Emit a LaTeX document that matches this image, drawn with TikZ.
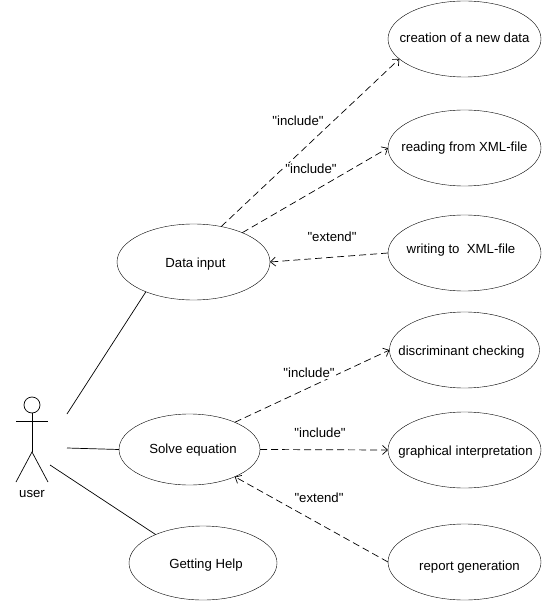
\documentclass[tikz,border=0pt]{standalone}
\usepackage{fontspec}
\newfontfamily\ucfont{Liberation Sans}
\usetikzlibrary{shapes,arrows.meta,positioning}

% text inside a use case: x offset (twice the shift), baseline below centre
\newcommand{\uctext}[3]{\makebox[0pt]{\raisebox{-#2pt}{\hspace*{#1pt}#3}}}

\begin{document}
\begin{tikzpicture}[
  x=1pt, y=-1pt,
  usecase/.style={draw, ellipse, minimum width=153pt, minimum height=76pt, inner sep=0pt, outer sep=0pt, text height=8pt, text depth=8pt, font=\ucfont\fontsize{13.2}{15}\selectfont},
  assoc/.style={line width=0.7pt},
  dep/.style={->, line width=0.7pt, dash pattern=on 7pt off 4pt, >={Straight Barb[length=5pt,width=9pt]}},
  lbl/.style={fill=white, inner sep=1pt, font=\ucfont\fontsize{13.2}{15}\selectfont}
]
\useasboundingbox (0,0) rectangle (542,601);

\node[usecase] (creation) at (464.5,39) {\uctext{0}{4}{creation of a new data}};
\node[usecase, below=33pt of creation] (reading) {\uctext{0}{3.5}{reading from XML-file}};
\node[usecase, below=29pt of reading] (writing) {\uctext{-7}{0.5}{writing to~~XML-file}};
\node[usecase, minimum width=150pt, below=21pt of writing] (discr) {\uctext{-6}{5}{discriminant checking}};
\node[usecase, below=24pt of discr] (graphical) {\uctext{2}{5.5}{graphical interpretation}};
\node[usecase, below=36pt of graphical] (report) {\uctext{10}{8.5}{report generation}};

\node[usecase] (datainput) at (193.5,262) {\uctext{4}{5.5}{Data input}};
\node[usecase, minimum width=141pt, minimum height=71pt] (solve) at (189.5,449.5) {\uctext{7}{4}{Solve equation}};
\node[usecase, minimum width=148pt, minimum height=74pt] (help) at (203,563) {\uctext{6}{5.5}{Getting Help}};

% actor
\node[draw, line width=0.7pt, circle, minimum size=16pt, inner sep=0pt, outer sep=0pt] (head) at (32,405) {};
\coordinate (armL) at (16,421);
\coordinate (armR) at (48,421);
\coordinate (hip) at (32,452);
\coordinate (footL) at (16,482);
\coordinate (footR) at (48,482);
\node[font=\ucfont\fontsize{13.2}{15}\selectfont] (user) at (32,494.5) {user};
\draw[assoc] (head) -- (hip);
\draw[assoc] (armL) -- (armR);
\draw[assoc] (footL) -- (hip) -- (footR);

% free ends next to the actor
\coordinate (userA) at (67,414);
\coordinate (userB) at (67,448);
\coordinate (userC) at (50,465);
\draw[assoc] (userA) -- (datainput.212);
\draw[assoc] (userB) -- (solve.west);
\draw[assoc] (userC) -- (help.149);

\draw[dep] (datainput.52) -- (creation.197.5);
\draw[dep] (datainput.31) -- (reading.west);
\draw[dep] (writing.west) -- (datainput.east);
\draw[dep] (solve.31) -- (discr.west);
\draw[dep] (solve.east) -- (graphical.west);
\draw[dep] (report.west) -- (solve.-31);

\node[lbl] (inc1) at (298,121) {"include"};
\node[lbl] (inc2) at (311,169) {"include"};
\node[lbl] (ext1) at (332,237) {"extend"};
\node[lbl] (inc3) at (309,373) {"include"};
\node[lbl] (inc4) at (320,433) {"include"};
\node[lbl] (ext2) at (319,498) {"extend"};
\end{tikzpicture}
\end{document}
